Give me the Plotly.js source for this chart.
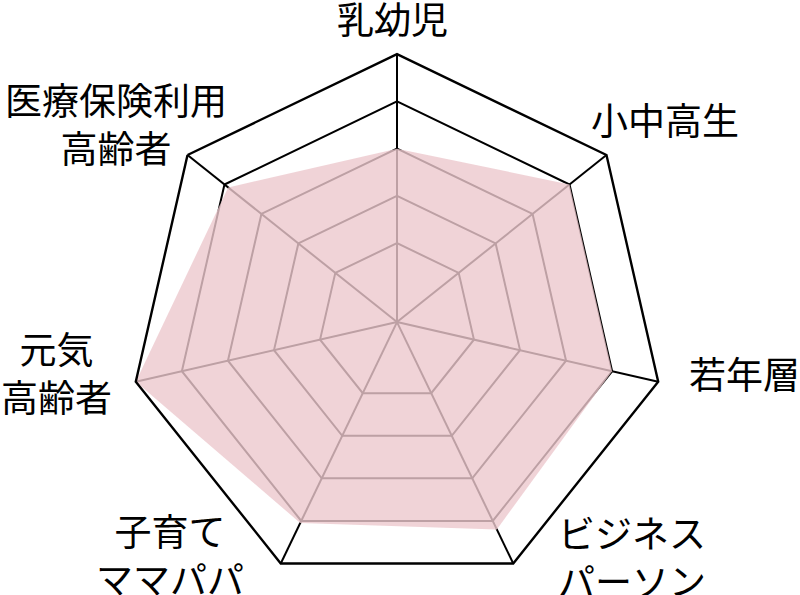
<!DOCTYPE html>
<html>
<head>
<meta charset="utf-8">
<script src="https://cdn.plot.ly/plotly-3.0.1.min.js"></script>
<style>html,body{margin:0;padding:0;background:#fff;}#chart{width:800px;height:595px;}</style>
</head>
<body>
<div id="chart"></div>
<script>
var categories = ["乳幼児", "小中高生", "若年層", "ビジネスパーソン", "子育てママパパ", "元気高齢者", "医療保険利用高齢者"];
var labelText = ["乳幼児", "小中高生", "若年層", "ビジネス<br>パーソン", "子育て<br>ママパパ", "元気<br>高齢者", "医療保険利用<br>高齢者"];
var values = [2.0, 3.0, 3.0, 3.2, 3.05, 4.0, 2.9];
var gridTicks = [0, 1, 2, 3, 4];
var radialRange = [-1.67, 4];

// label placement (pixel centre of each label block)
var labelX = [392, 665, 744, 632, 170, 57, 116];
var labelY = [18, 119, 373, 556, 554, 372, 123];

var trace = {
  type: "scatterpolar",
  r: values.concat([values[0]]),
  theta: categories.concat([categories[0]]),
  mode: "lines",
  fill: "toself",
  fillcolor: "rgba(236,200,205,0.8)",
  line: {width: 0, color: "rgba(0,0,0,0)"},
  hoverinfo: "skip"
};

var W = 800, H = 595;
var annotations = labelText.map(function (t, i) {
  return {
    text: t, xref: "paper", yref: "paper",
    x: labelX[i] / W, y: 1 - labelY[i] / H,
    xanchor: "center", yanchor: "middle", align: "center",
    showarrow: false,
    font: {size: 37, family: "Noto Sans CJK JP, sans-serif", color: "#000"}
  };
});

var layout = {
  width: W, height: H,
  margin: {l: 0, r: 0, t: 0, b: 0},
  paper_bgcolor: "#ffffff",
  plot_bgcolor: "#ffffff",
  showlegend: false,
  font: {family: "Noto Sans CJK JP, sans-serif", color: "#000"},
  annotations: annotations,
  polar: {
    gridshape: "linear",
    bgcolor: "#ffffff",
    domain: {x: [0.16125, 0.83125], y: [0.0084, 0.909]},
    radialaxis: {
      range: radialRange,
      tickvals: gridTicks,
      showticklabels: false,
      ticks: "",
      showline: false,
      gridcolor: "#000000",
      gridwidth: 2,
      angle: 90
    },
    angularaxis: {
      type: "category",
      categoryarray: categories,
      rotation: 90,
      direction: "clockwise",
      showline: true,
      linecolor: "#000000",
      linewidth: 2.4,
      gridcolor: "#000000",
      gridwidth: 2,
      ticks: "",
      showticklabels: false
    }
  }
};

Plotly.newPlot("chart", [trace], layout, {displayModeBar: false, staticPlot: true});
</script>
</body>
</html>
